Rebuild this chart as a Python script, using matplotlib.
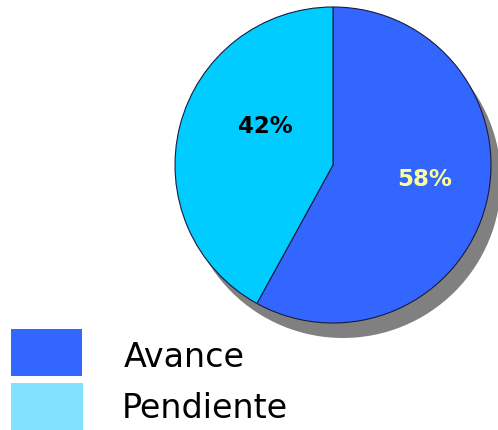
import matplotlib
matplotlib.use("Agg")
import matplotlib.pyplot as plt
from matplotlib.patches import Circle, Rectangle

labels = ["Avance", "Pendiente"]
values = [58, 42]
colors = ["#3366FF", "#00CCFF"]
legend_colors = ["#3366FF", "#80E2FF"]
pct_colors = ["#FFFF99", "#000000"]

W, H = 498, 431
fig = plt.figure(figsize=(W / 100, H / 100), dpi=100)
fig.patch.set_facecolor("white")

# Pie axes placed in pixel terms
cx, cy, r = 333, 166, 158
ax = fig.add_axes([(cx - r) / W, (H - cy - r) / H, 2 * r / W, 2 * r / H])
ax.set_xlim(-1, 1)
ax.set_ylim(-1, 1)
ax.set_aspect("equal")
ax.axis("off")

# drop shadow
ax.add_patch(Circle((10 / r, -15 / r), 1.0, facecolor="#808080", edgecolor="none",
                    zorder=0, clip_on=False))

wedges, texts, autotexts = ax.pie(
    values, colors=colors, startangle=90, counterclock=False, radius=1.0,
    autopct=lambda p: f"{p:.0f}%", pctdistance=0.55,
    wedgeprops=dict(edgecolor="#1a1a40", linewidth=0.8),
    textprops=dict(fontsize=16.5, fontweight="bold", family="DejaVu Sans"),
)
for w in wedges:
    w.set_zorder(2)
label_pos = [(0.582, -0.127), (-0.43, 0.209)]
for t, c, p in zip(autotexts, pct_colors, label_pos):
    t.set_color(c)
    t.set_zorder(3)
    t.set_position(p)
    t.set_ha("center")
    t.set_va("baseline")
ax.set_xlim(-1, 1)
ax.set_ylim(-1, 1)

# legend drawn in figure pixel coordinates
lax = fig.add_axes([0, 0, 1, 1])
lax.set_xlim(0, W)
lax.set_ylim(H, 0)
lax.axis("off")
lax.set_zorder(-1)
boxes = [(11, 330, 71, 47), (11, 384, 72, 47)]
text_pos = [(124, 367), (122, 418)]
for lab, col, (x, y, w, h), (tx, ty) in zip(labels, legend_colors, boxes, text_pos):
    lax.add_patch(Rectangle((x, y), w, h, facecolor=col, edgecolor="none"))
    lax.text(tx, ty, lab, fontsize=24, family="DejaVu Sans", va="baseline",
             ha="left", color="black")

fig.savefig("out.png", dpi=100, facecolor="white")
